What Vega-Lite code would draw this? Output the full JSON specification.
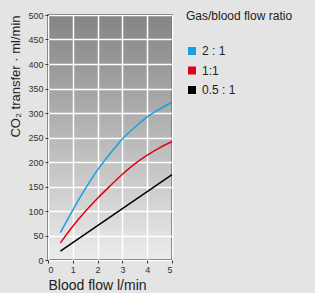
{
  "$schema": "https://vega.github.io/schema/vega-lite/v6.json",
  "width": 124,
  "height": 245,
  "autosize": {"type": "none"},
  "padding": {"left": 48, "top": 15, "right": 143, "bottom": 33},
  "background": "#e4e4e4",
  "config": {
    "font": "Liberation Sans",
    "view": {
      "stroke": "#3a3a3a",
      "strokeWidth": 1.5,
      "fill": {
        "gradient": "linear",
        "x1": 0, "y1": 0, "x2": 0, "y2": 1,
        "stops": [
          {"offset": 0, "color": "#848484"},
          {"offset": 1, "color": "#ececec"}
        ]
      }
    },
    "axis": {
      "domain": false,
      "grid": true,
      "gridColor": "#ffffff",
      "gridWidth": 1.5,
      "gridOpacity": 1,
      "tickColor": "#3a3a3a",
      "tickSize": 3,
      "labelColor": "#333333",
      "labelFontSize": 9,
      "titleFontWeight": "normal",
      "titleColor": "#222222"
    }
  },
  "data": {
    "values": [
      {"flow": 0.5, "co2": 56, "ratio": "2 : 1"},
      {"flow": 1.0, "co2": 102, "ratio": "2 : 1"},
      {"flow": 1.5, "co2": 145, "ratio": "2 : 1"},
      {"flow": 2.0, "co2": 184, "ratio": "2 : 1"},
      {"flow": 2.5, "co2": 217, "ratio": "2 : 1"},
      {"flow": 3.0, "co2": 247, "ratio": "2 : 1"},
      {"flow": 3.5, "co2": 271, "ratio": "2 : 1"},
      {"flow": 4.0, "co2": 292, "ratio": "2 : 1"},
      {"flow": 4.5, "co2": 308, "ratio": "2 : 1"},
      {"flow": 5.0, "co2": 322, "ratio": "2 : 1"},
      {"flow": 0.5, "co2": 35, "ratio": "1:1"},
      {"flow": 1.0, "co2": 69, "ratio": "1:1"},
      {"flow": 1.5, "co2": 99, "ratio": "1:1"},
      {"flow": 2.0, "co2": 126, "ratio": "1:1"},
      {"flow": 2.5, "co2": 151, "ratio": "1:1"},
      {"flow": 3.0, "co2": 175, "ratio": "1:1"},
      {"flow": 3.5, "co2": 196, "ratio": "1:1"},
      {"flow": 4.0, "co2": 214, "ratio": "1:1"},
      {"flow": 4.5, "co2": 229, "ratio": "1:1"},
      {"flow": 5.0, "co2": 242, "ratio": "1:1"},
      {"flow": 0.5, "co2": 18, "ratio": "0.5 : 1"},
      {"flow": 5.0, "co2": 174, "ratio": "0.5 : 1"}
    ]
  },
  "mark": {"type": "line", "strokeWidth": 1.5, "interpolate": "monotone"},
  "encoding": {
    "x": {
      "field": "flow", "type": "quantitative",
      "scale": {"domain": [0, 5], "nice": false},
      "axis": {"values": [0, 1, 2, 3, 4, 5], "title": "Blood flow l/min", "titleFontSize": 14, "titlePadding": 4, "labelPadding": 2, "titleAnchor": "start"}
    },
    "y": {
      "field": "co2", "type": "quantitative",
      "scale": {"domain": [0, 500], "nice": false},
      "axis": {"values": [0, 50, 100, 150, 200, 250, 300, 350, 400, 450, 500], "title": "CO₂ transfer · ml/min", "titleFontSize": 13, "titlePadding": 5, "labelPadding": 2, "titleAnchor": "end"}
    },
    "color": {
      "field": "ratio", "type": "nominal",
      "scale": {"domain": ["2 : 1", "1:1", "0.5 : 1"], "range": ["#17a0e0", "#e2001a", "#000000"]},
      "legend": {
        "title": "Gas/blood flow ratio",
        "orient": "none",
        "legendX": 138,
        "legendY": -4,
        "titleFontSize": 12,
        "titleFontWeight": "normal",
        "titleColor": "#222222",
        "titlePadding": 22,
        "labelFontSize": 12,
        "labelColor": "#222222",
        "labelOffset": 4,
        "symbolType": "square",
        "symbolSize": 64,
        "symbolStrokeWidth": 0,
        "symbolOpacity": 1,
        "rowPadding": 7.5,
        "padding": 0,
        "encode": {
          "symbols": {"update": {"fill": {"scale": "color", "field": "value"}, "strokeWidth": {"value": 0}}}
        }
      }
    }
  }
}
